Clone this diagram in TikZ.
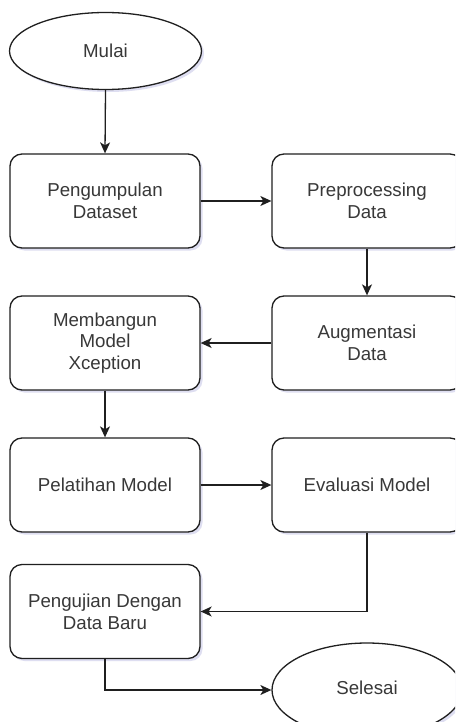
\documentclass[tikz,border=0pt]{standalone}
\usepackage{fontspec}
\setmainfont{Liberation Sans}
\usetikzlibrary{shapes.geometric,arrows.meta,shadows}
\begin{document}
\begin{tikzpicture}[x=1pt,y=-1pt,
  every node/.style={font=\fontsize{18.7}{21.7}\selectfont, text=black!78, align=center},
  stepbox/.style={draw=black!88, line width=1.3pt, rounded corners=12pt, fill=white,
    minimum width=190pt, minimum height=94pt, inner sep=0pt,
    drop shadow={opacity=0.18, shadow xshift=2.5pt, shadow yshift=-2.5pt, fill=blue!40!gray}},
  term/.style={draw=black!88, line width=1.3pt, ellipse, fill=white, inner sep=0pt,
    minimum width=192pt, minimum height=77pt,
    drop shadow={opacity=0.18, shadow xshift=2.5pt, shadow yshift=-2.5pt, fill=blue!40!gray}},
  flow/.style={draw=black!88, line width=1.3pt, -{Stealth[length=11pt,width=10pt,inset=3pt]}}]
\useasboundingbox (0,0) rectangle (455,722);
\clip (0,0) rectangle (455,722);
\fill[white] (0,0) rectangle (455,722);

\node[term] (mulai) at (105.5,51) {Mulai};
\node[stepbox] (peng) at (105,201) {Pengumpulan\\Dataset};
\node[stepbox] (prep) at (367,201) {Preprocessing\\Data};
\node[stepbox] (aug) at (367,343) {Augmentasi\\Data};
\node[stepbox] (mem) at (105,343) {Membangun\\Model\\Xception};
\node[stepbox] (pel) at (105,485) {Pelatihan Model};
\node[stepbox] (eva) at (367,485) {Evaluasi Model};
\node[stepbox] (uji) at (105,611.5) {Pengujian Dengan\\Data Baru};
\node[term, minimum width=190pt, minimum height=94pt] (sel) at (367,690) {\raisebox{4pt}{Selesai}};

\draw[flow] (mulai.south) -- (peng.north);
\draw[flow] (peng.east) -- (prep.west);
\draw[flow] (prep.south) -- (aug.north);
\draw[flow] (aug.west) -- (mem.east);
\draw[flow] (mem.south) -- (pel.north);
\draw[flow] (pel.east) -- (eva.west);
\draw[flow] (eva.south) |- (uji.east);
\draw[flow] (uji.south) |- (sel.west);
\end{tikzpicture}
\end{document}
